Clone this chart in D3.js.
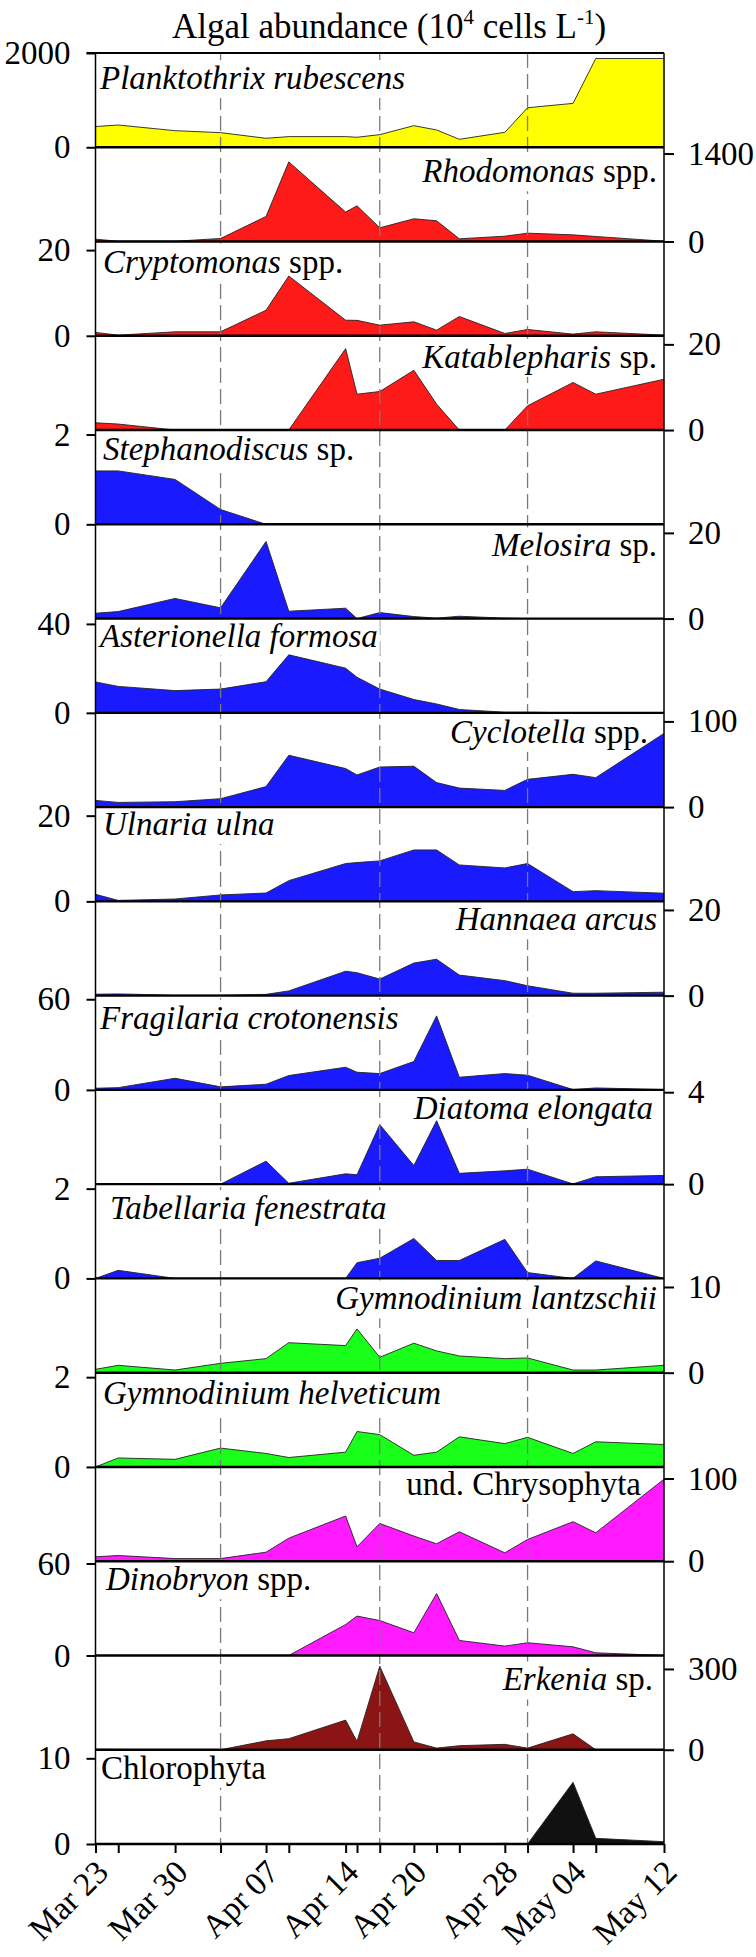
<!DOCTYPE html>
<html>
<head>
<meta charset="utf-8">
<script src="https://cdn.jsdelivr.net/npm/d3@7"></script>
<style>
  body { margin: 0; background: #fff; }
  svg { display: block; }
</style>
</head>
<body>
<svg id="chart" width="756" height="1957" font-family="'Liberation Serif', 'Times New Roman', serif"></svg>
<script>
// sampling dates
const dates = ["03-23","03-25","03-30","04-03","04-07","04-09","04-14","04-15","04-17",
               "04-20","04-22","04-24","04-28","04-30","05-04","05-06","05-12"];
const labelDates = ["03-23","03-30","04-07","04-14","04-20","04-28","05-04","05-12"];
const markDates = ["04-03","04-17","04-30"];

// abundances (10^4 cells/L)
const planktothrix = [440,472,352,310,190,226,226,212,268,458,367,169,317,839,931,1883,1883];
const rhodomonas   = [37,5,5,48,399,1267,468,569,218,362,330,43,85,133,106,80,5];
const cryptomonas  = [0.78,0.15,0.93,0.93,5.97,13.95,3.64,3.6,2.48,3.26,1.32,4.5,0.54,1.47,0.39,0.93,0.15];
const katablepharis= [1.7,1.4,0,0,0,0,19.0,8.37,9.0,13.95,6.05,0,0,5.66,11.1,8.37,11.86];
const stephanodiscus=[1.19,1.19,1.0,0.33,0,0,0,0,0,0,0,0,0,0,0,0,0];
const melosira     = [1.25,1.64,4.7,2.5,18.0,1.72,2.42,0,1.4,0.47,0.1,0.55,0.1,0,0,0,0];
const asterionella = [13.9,11.9,10.0,10.7,14.0,26.1,20.1,16.0,10.7,6.0,4.0,1.5,0.3,0.3,0,0,0];
const cyclotella   = [7.8,5.5,6.3,9.8,23.9,60.5,45,37.5,46.8,47.7,28.6,22.2,19.5,32.4,38.3,34.4,86];
const ulnaria      = [1.64,0.23,0.55,1.5,1.95,4.84,8.83,9.06,9.45,12.0,12.0,8.5,7.8,8.83,2.27,2.5,1.9];
const hannaea      = [0.33,0.4,0.1,0.1,0.3,1.1,5.7,5.35,3.86,7.6,8.5,4.8,3.5,2.3,0.56,0.56,0.8];
const fragilaria   = [1.1,1.5,7.7,2.0,3.75,9.5,15.0,11.7,10.8,18.8,49,8.4,10.8,9.7,0.2,1.3,0.2];
const diatoma      = [0.03,0,0,0,1.0,0.04,0.45,0.41,2.59,0.81,2.76,0.47,0.58,0.65,0.01,0.32,0.38];
const tabellaria   = [0,0.18,0,0,0,0,0,0.35,0.45,0.89,0.4,0.4,0.87,0.13,0,0.39,0];
const lantzschii   = [0.39,0.86,0.31,1.09,1.64,3.5,3.16,5.1,1.8,3.44,2.54,1.95,1.64,1.72,0.31,0.31,0.86];
const helveticum   = [0,0.2,0.17,0.42,0.3,0.21,0.33,0.79,0.72,0.26,0.33,0.67,0.52,0.66,0.3,0.56,0.5];
const chrysophyta  = [5.3,6.9,3.2,3.2,10.9,27.9,54.7,17.4,45.7,30.4,21.1,35.6,10.1,26.3,47.8,34.4,99.2];
const dinobryon    = [0,0,0,0,0,0,20.2,25.7,22.8,14.8,40.4,9.8,6.1,8.3,5.65,1.74,0];
const erkenia      = [2,1,0,0,33,41,110,31,310,29,6,15,20,6,59,0,0];
const chlorophyta  = [0,0,0,0,0,0,0,0,0.08,0,0,0,0.08,0,7.2,0.66,0.27];

const series = [planktothrix, rhodomonas, cryptomonas, katablepharis, stephanodiscus, melosira,
  asterionella, cyclotella, ulnaria, hannaea, fragilaria, diatoma, tabellaria, lantzschii,
  helveticum, chrysophyta, dinobryon, erkenia, chlorophyta];
const nameItalic = ["Planktothrix rubescens","Rhodomonas","Cryptomonas","Katablepharis","Stephanodiscus",
  "Melosira","Asterionella formosa","Cyclotella","Ulnaria ulna","Hannaea arcus","Fragilaria crotonensis",
  "Diatoma elongata","Tabellaria fenestrata","Gymnodinium lantzschii","Gymnodinium helveticum","",
  "Dinobryon","Erkenia",""];
const namePlain = [""," spp."," spp."," sp."," sp."," sp.",""," spp.","","","","","","","",
  "und. Chrysophyta"," spp."," sp.","Chlorophyta"];
const tickMax = [2000,1400,20,20,2,20,40,100,20,20,60,4,2,10,2,100,60,300,10];
const yMax    = [2000,1500,22,22,2.1,22,42.4,110,22,22,62.4,4.1,2.1,11,2.1,114,61.5,350,11];
const groupColor = ["#ffff00","#ff1a1a","#ff1a1a","#ff1a1a","#1a1aff","#1a1aff","#1a1aff","#1a1aff",
  "#1a1aff","#1a1aff","#1a1aff","#1a1aff","#1a1aff","#1aff1a","#1aff1a","#ff1aff","#ff1aff","#8b1515","#111111"];

// label placement (x nudge, baseline below panel top)
const labelNudge = [0,0,3,0,3,0,0,-9,3,0,0,-4,10,0,3,-16,6,-4,1];
const labelDrop  = [36,35,31,32,30,32,28,30,28,29,33,29,35,31,31,28,29,35,29];

const svg = d3.select("#chart");
const plotLeft = 95.5, plotRight = 664, plotTop = 53, plotBottom = 1844;
const n = series.length;
const ph = (plotBottom - plotTop) / n;
const parse = d3.timeParse("%Y-%m-%d");
const dt = dates.map(d => parse("2013-" + d));
const serif = "'Liberation Serif', 'Times New Roman', serif";

const x = d3.scaleTime()
    .domain([parse("2013-03-23"), parse("2013-05-12")])
    .range([plotLeft, plotRight]);

// title
const title = svg.append("text")
    .attr("x", 389).attr("y", 38)
    .attr("text-anchor", "middle")
    .attr("font-family", serif)
    .style("font-size", "35px");
title.append("tspan").text("Algal abundance (10");
title.append("tspan").text("4").style("font-size", "21px").attr("dy", -14);
title.append("tspan").text(" cells L").attr("dy", 14);
title.append("tspan").text("-1").style("font-size", "21px").attr("dy", -14);
title.append("tspan").text(")").attr("dy", 14);

const mask = svg.append("defs").append("mask").attr("id", "labmask")
    .attr("maskUnits", "userSpaceOnUse")
    .attr("x", 0).attr("y", 0).attr("width", 756).attr("height", 1957);
mask.append("rect").attr("width", 756).attr("height", 1957).attr("fill", "#fff");

const gAreas = svg.append("g");
const gMarks = svg.append("g").attr("mask", "url(#labmask)");
const gLabels = svg.append("g");
const gAxes = svg.append("g");

series.forEach((vals, i) => {
  const y0 = plotTop + (i + 1) * ph, y1 = plotTop + i * ph;
  const y = d3.scaleLinear().domain([0, yMax[i]]).range([y0, y1]);
  const pts = vals.map((v, k) => [dt[k], v]);

  gAreas.append("path")
      .datum(pts)
      .attr("fill", groupColor[i])
      .attr("d", d3.area().x(d => x(d[0])).y0(y(0)).y1(d => y(d[1])));
  gAreas.append("path")
      .datum(pts)
      .attr("fill", "none")
      .attr("stroke", "#222")
      .attr("stroke-width", 0.9)
      .attr("d", d3.line().x(d => x(d[0])).y(d => y(d[1])));

  // species label
  const onLeft = i % 2 == 0;
  const lab = gLabels.append("text")
      .attr("x", (onLeft ? 100 : 657) + labelNudge[i])
      .attr("y", y1 + labelDrop[i])
      .attr("text-anchor", onLeft ? "start" : "end")
      .attr("font-family", serif)
      .style("font-size", "33px");
  if (nameItalic[i]) lab.append("tspan").style("font-style", "italic").text(nameItalic[i]);
  if (namePlain[i]) lab.append("tspan").text(namePlain[i]);
  const bb = lab.node().getBBox();
  mask.append("rect")
      .attr("x", bb.x - 2).attr("y", bb.y)
      .attr("width", bb.width + 4).attr("height", bb.height + 2)
      .attr("fill", "#000");

  // y axis: 0 and max tick
  const ax = onLeft
      ? d3.axisLeft(y).tickValues([0, tickMax[i]]).tickSize(9).tickPadding(16)
      : d3.axisRight(y).tickValues([0, tickMax[i]]).tickSize(10).tickPadding(14);
  const g = gAxes.append("g")
      .attr("transform", "translate(" + (onLeft ? plotLeft : plotRight) + ",0)")
      .call(ax.tickFormat(d3.format("d")).tickSizeOuter(0));
  g.attr("font-family", serif).attr("font-size", 33);
  g.select(".domain").remove();
  g.selectAll("line").attr("stroke", "#000").attr("stroke-width", 2);
  g.selectAll("text").attr("fill", "#000");

  // baseline
  gAxes.append("line")
      .attr("x1", plotLeft).attr("x2", plotRight)
      .attr("y1", y(0)).attr("y2", y(0))
      .attr("stroke", "#000").attr("stroke-width", 2.4);
});

// dashed reference dates
gMarks.selectAll("line")
  .data(markDates).enter()
    .append("line")
      .attr("x1", d => x(parse("2013-" + d)))
      .attr("x2", d => x(parse("2013-" + d)))
      .attr("y1", plotTop).attr("y2", plotBottom)
      .attr("stroke", "#7a7a7a")
      .attr("stroke-width", 1.3)
      .attr("stroke-dasharray", "15,6");

// frame
gAxes.append("line").attr("x1", plotLeft - 9).attr("x2", plotRight).attr("y1", plotTop).attr("y2", plotTop)
    .attr("stroke", "#000").attr("stroke-width", 2);
gAxes.append("line").attr("x1", plotLeft).attr("x2", plotLeft).attr("y1", plotTop).attr("y2", plotBottom)
    .attr("stroke", "#000").attr("stroke-width", 1.5);
gAxes.append("line").attr("x1", plotRight).attr("x2", plotRight).attr("y1", plotTop).attr("y2", plotBottom)
    .attr("stroke", "#000").attr("stroke-width", 1.5);

// x axis
const fmt = d3.timeFormat("%b %d");
const xAxis = gAxes.append("g")
    .attr("transform", "translate(0," + plotBottom + ")")
    .call(d3.axisBottom(x).tickValues(dt).tickSize(9).tickSizeOuter(0)
      .tickFormat(d => labelDates.includes(d3.timeFormat("%m-%d")(d)) ? fmt(d) : ""));
xAxis.attr("font-family", serif).attr("font-size", 33);
xAxis.select(".domain").remove();
xAxis.selectAll("line").attr("stroke", "#000").attr("stroke-width", 2);
xAxis.selectAll("text")
    .attr("fill", "#000")
    .attr("text-anchor", "end")
    .attr("transform", "translate(6,22) rotate(-45)")
    .attr("dy", "0.35em")
    .attr("y", 0);
</script>
</body>
</html>
